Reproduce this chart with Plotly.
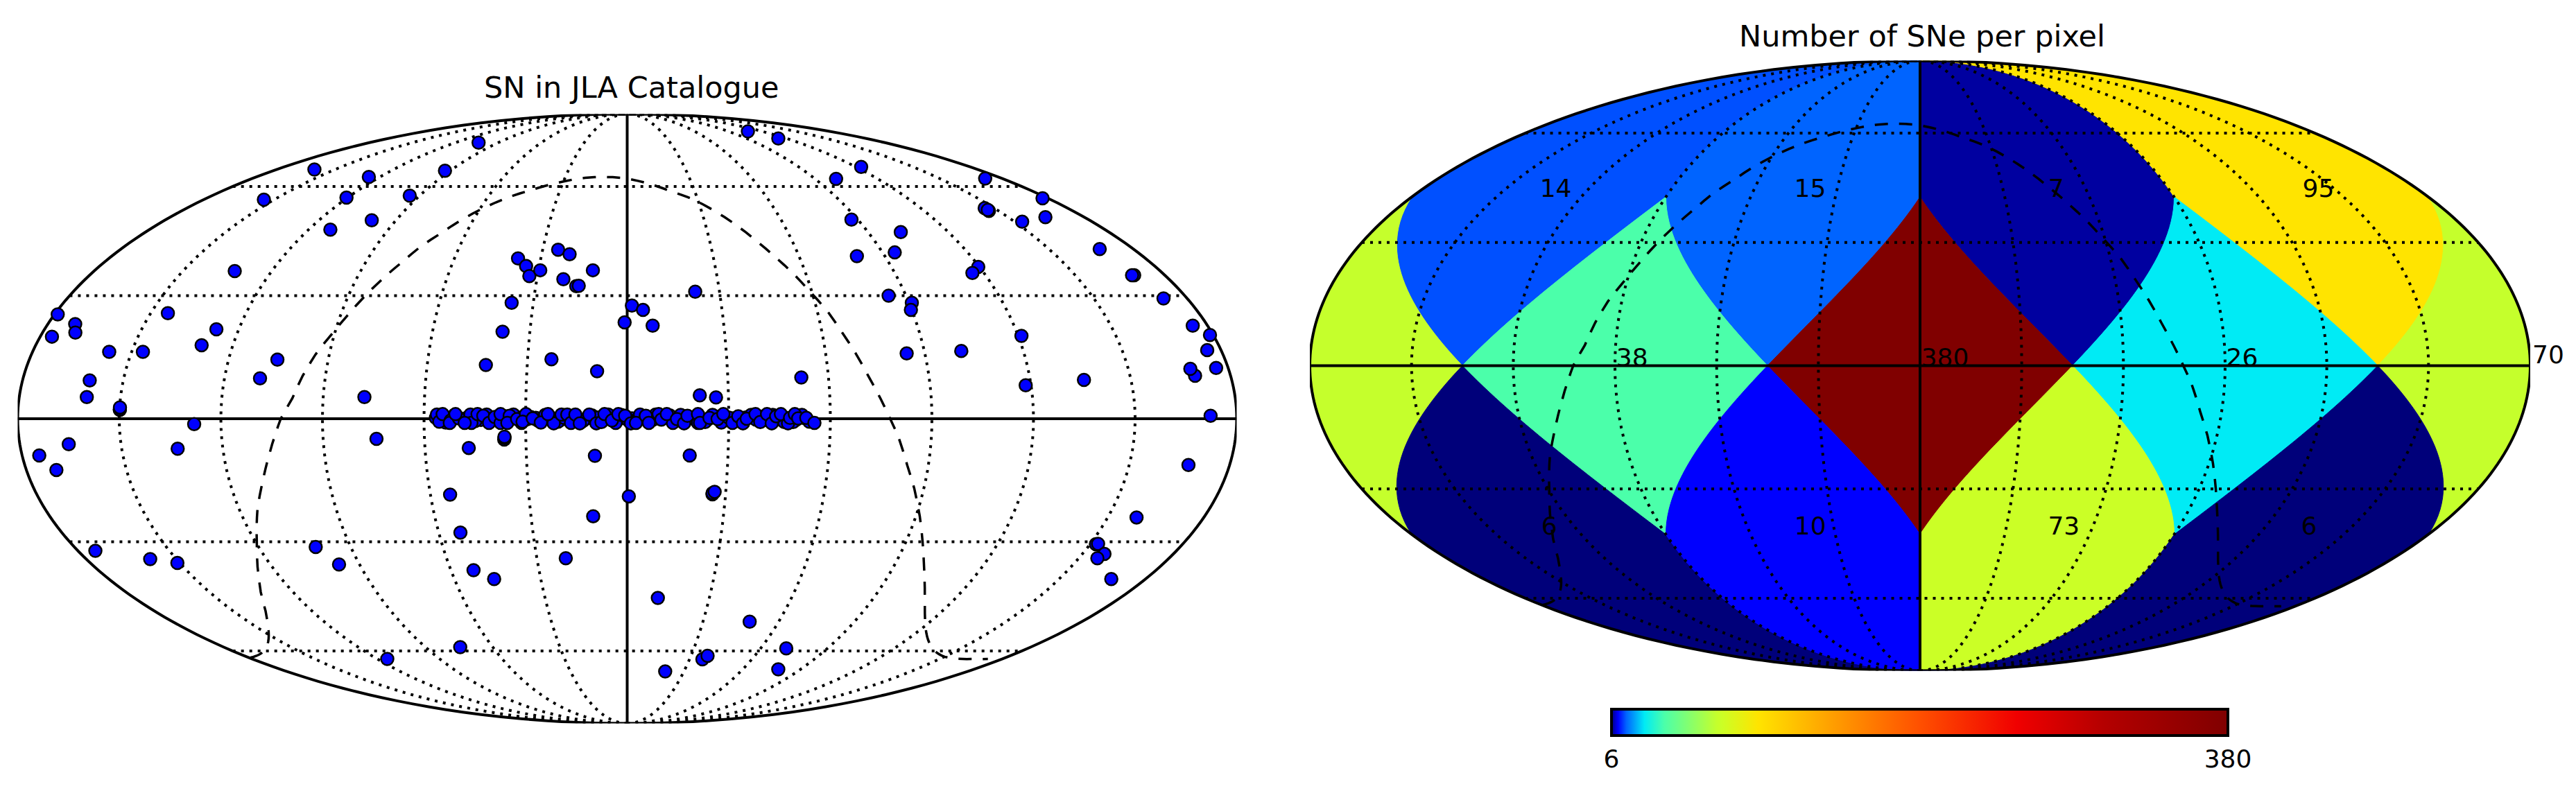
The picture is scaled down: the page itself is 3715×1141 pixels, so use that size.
import math
import plotly.graph_objects as go

W, H = 3715, 1141
TXT = "DejaVu Sans"

# SNe, degrees (centre of map = lon 0, lon grows to the right)
sn_lon = [-179, -171.5, -169.9, -176.4, -156.8, -146.6, -144.6, -126.9, -129.5, -105.3, -109.4, -160, -160, -149.9,
          -149.9, -149.9, -77.8, -132.5, -154.4, -160.5, -125.4, -120.5, -94.3, -92.6, -103.7, -99.4, -111.8, -37.9,
          -34.5, -32.7, -29.4, -24.5, -20.2, -11.6, -21.2, -16.7, -15.9, -36.9, -38.4, -42.4, -22.8, -9, 1.5, 5, -0.8,
          7.9, -127.9, -165.5, -174.9, -171, -133.4, -74.2, -47, -36.4, -36.3, -36.3, -9.6, -54, 0.5, -10.6, -53.1,
          -174.3, -158.7, -150.8, -101.4, -96.9, -52.3, -46.2, -20.4, -74.5, -115.2, 11.2, 107.3, 113.9, 122.8, 100.1,
          171.9, 177.7, 146.1, 146.1, 146.3, 152.9, 164.7, 87.5, 102.2, 94.3, 80.2, 119.6, 116.1, 168, 169.7, 169, 172.4,
          22.1, 84.4, 90.9, 89.7, 175.4, 179, 175.8, 121, 101.2, 84.5, 118.4, 136, 51.9, 169.4, 168.6, 176.4, 21.5, 26.3,
          172.3, 18.6, 26, 26, 26.6, 48.5, 71.5, 36.2, 37.8, 20.1, 78.5, 167.7, 159, 151.9, 152.5, 157.3, 156.2, 168.1]
sn_lat = [25.3, 22.9, 20.8, 19.8, 16.1, 16.1, 25.6, 21.6, 17.7, 14.2, 9.7, 9.2, 5.2, 2.1,
          2.3, 2.7, 5.2, 36.3, 56, 65.4, 63, 56.6, 57.2, 65, 75, 50, 47.4, 39.6,
          37.6, 35, 36.5, 41.9, 40.7, 36.5, 34.2, 32.4, 32.5, 28.2, 21, 12.9, 14.3, 11.4, 27.5, 26.4, 23.3,
          22.5, -1.3, -6.1, -8.8, -12.3, -7.2, -4.8, -7, -5, -4.6, -4.3, -8.9, -18.3, -18.7, -23.6, -27.7,
          -32.3, -34.4, -35.4, -31.3, -35.8, -37.3, -39.6, -34.2, -58.8, -62.5, -44.7, 79.7, 76.7, 66.3, 62.4,
          62.5, 56.4, 53.5, 52.7, 53, 49.6, 50.9, 50.2, 46.7, 41.2, 40.2, 37.4, 35.8, 42.1, 35.2, 35.2, 29.3,
          31, 30, 28.2, 26.4, 22.5, 20.2, 16.5, 20, 16.3, 15.7, 8, 9.3, 9.9, 10.3, 12, 12.2, 5.6, 5.1,
          0.7, -8.8, -18.2, -17.9, -17.6, -51.3, -59.2, -62.6, -61.5, -66.6, -65.9, -11.1, -23.9, -30.6, -30.5, -33.1,
          -34.2, -39.6]

# the stripe along the equator, hidden ones first so the readable ones end up on top
stripe_lon = [-55, -52.8, -50.2, -48.6, -45.4, -43.2, -40, -37, -34.8, -32, -29.5, -27, -25, -23, -21, -19.5, -16, -14.5,
              -12, -9.5, -7, -4.8, -2.8, -0.9, 1.4, 3, 5, 6.8, 9, 11, 13, 15, 17, 19, 21, 24, 26, 28.6, 31, 33, 35,
              38, 41.8, 44.5, 47, 50, 52.6,
              -56.5, -53.6, -51, -47.2, -44.8, -41.5, -38.4, -36, -33.6, -31.2, -28.5, -26.4, -24.2, -22.5, -20.4,
              -18.6, -13, -10.4, -8.5, -5.6, -3.4, -1.8, 0.2, 3.8, 7.5, 8.4, 12.6, 13.5, 15.8, 19.2, 23, 25.2, 27.8,
              29.9, 33.7, 36.6, 40.4, 43, 46.4, 49, 51.6, 53.8,
              -56.2, -55.5, -54.5, -52.1, -52.4, -49.7, -50.7, -46.3, -46, -48, -44.2, -42.5, -40.8, -39.1, -37.4,
              -37.4, -34.7, -35.4, -32.5, -29.9, -30.9, -27.9, -25.5, -21.7, -23.4, -19.4,
              -17.7, -16.6, -15.3, -14, -11.2, -9.1, -7.6, -6.7, -4.5, -2.6, -0.6, 1.1, 2.6, 5.5, 6.4, 9.3, 10.1, 11.7,
              14.7, 16.8, 17.8, 20.9,
              20.9, 21.5, 24.3, 26.7, 28.4, 31.1, 32.8, 34.2, 35.3, 37.9, 39.3, 41.3, 42.7, 44, 45.4, 47.5, 48.1, 49.5,
              50.5, 52.9, 55.3]
stripe_lat = [0.1, -0.2, 0.3, -0.1, 0.2, -0.3, 0.1, 0.2, -0.2, 0.3, -0.1, 0.2, -0.2, 0.3, 0, -0.2, 0.2, -0.1,
              0.1, -0.3, 0.2, 0.1, -0.2, 0.3, 0.1, -0.1, 0.2, -0.2, 0.1, 0.3, -0.1, 0.2, -0.3, 0.1, 0.2, -0.1, 0.3, -0.2, 0.1, -0.1, 0.3,
              -0.2, 0.1, -0.1, 0.2, -0.2, 0.1,
              0.2, -0.9, 0.9, 0.3, -0.5, 1, -0.3, 0.6, 1, -1, 0.4, -0.4, 0.9, 0, -0.7,
              0.2, -0.5, 0.8, 0.3, 1, -1, 0.9, -0.3, 1, -0.3, 1, 0.8, -1, 0.9, 0.2, -0.8, 0.9, -0.9,
              0.3, -0.7, 0.9, 0.6, 0.9, -0.8, -0.8, 0.9, -0.7,
              1, -0.7, 1.1, -0.4, -1, 0.1, 1.1, 1, -1, -1, 1.1, 0.7, -1, 0.4, -1,
              1.1, 0.7, -1, -0.1, 1.1, -0.7, 0.1, -0.9, -1.1, 1.1, 1,
              1, -1, 1, -1.1, 1, -1.1, -0.8, 1.1, -0.4, 1.1, 0.7, -1.1, -1, 0.7, -1, 1.1, -0.2, 1.1,
              -0.1, -1.1, 0.7, -1,
              1.1, -1, 0.2, -0.1, 1.1, -1, 0.6, -1.1, 0, 1.1, -0.8, 1.1, -1.1, 0.6, 1.1, -1.1, 0.2, 1.1,
              0.1, 0.2, -1]

# dashed curve, same on both maps
curve_lon = [-179.5, -169.3, -155.7, -137.7, -131.6, -124.9, -119.5, -114.3, -110, -106.6, -103.9, -102.3, -99.1, -96.8,
             -94.2, -90.7, -87.9, -84.5, -81.3, -77.3, -74, -69.2, -64.4, -58.8, -51.1, -42.8, -32.1, -20.3, -2.6, 5.4,
             19, 28, 35.1, 41.4, 46.9, 51.5, 55.9, 59.1, 63.2, 66.2, 69.1, 71.9, 75.1, 77.9, 79.9, 83.7, 87.1, 91.2,
             95.3, 99.3, 105.6, 114.2, 132, 150.1, 167.6, 173.2]
curve_lat = [-62.1, -60.7, -57.2, -48.3, -43.1, -36.4, -29.9, -21.8, -15.1, -8.9, -3.4, 0, 4.9, 10.3,
             15.4, 20.6, 24.9, 30.1, 34.3, 38.9, 42.7, 46.5, 50.3, 53.5, 56.7, 58.9, 61.2, 62.7, 62.7, 61.7,
             58.6, 56.1, 52.8, 48.9, 44.4, 40.1, 35.5, 31.4, 26.1, 20.8, 15.7, 10.3, 4.6, -0.4, -3.7, -11.2, -16.8, -23.6,
             -29.9, -35.2, -41.9, -48.9, -57.6, -61.8, -62.5, -62.5]

# HEALPix nside=1 pixels, right map
pixel_counts = [14, 15, 7, 95, 38, 380, 26, 70, 6, 10, 73, 6]
pixel_lon = [-135, -45, 45, 135, -90, 0, 90, 180, -135, -45, 45, 135]
pixel_band = ["n", "n", "n", "n", "e", "e", "e", "e", "s", "s", "s", "s"]
# text sits just above the pixel centre, plotly adds its own gap so these are ~2 deg under it
label_lon = [-132.5, -44.1, 44.1, 132.5, -90, 0, 90, 179.9, -137.3, -45.8, 45.8, 137.3]
label_lat = [39.8, 39.8, 39.8, 39.8, -1.8, -1.8, -1.8, -1.8, -43.8, -43.8, -43.8, -43.8]

# colour per count: histogram-equalised jet
count_stops = [6, 7, 10, 14, 15, 26, 38, 70, 73, 95, 152, 193, 252, 305, 380]
count_colors = ["rgb(0,0,122)", "rgb(0,0,160)", "rgb(0,0,255)", "rgb(0,80,255)", "rgb(0,100,255)", "rgb(0,235,245)",
                "rgb(75,255,170)", "rgb(197,255,44)", "rgb(203,255,38)", "rgb(255,228,0)", "rgb(255,140,0)",
                "rgb(255,80,0)", "rgb(240,0,0)", "rgb(180,0,0)", "rgb(128,0,0)"]
colorbar_ticks = [6, 380]

colorscale = [[(c - 6) / 374, col] for c, col in zip(count_stops, count_colors)]
color_of = dict(zip(count_stops, count_colors))


def edge(lon0, lon1, z0, z1):
    # pixel edge in the equatorial belt, straight in (lon, sin lat)
    n = 30
    return [[lon0 + (lon1 - lon0) * i / n, math.degrees(math.asin(z0 + (z1 - z0) * i / n))] for i in range(n + 1)]


def pixel_ring(lon, band):
    # clockwise seen from outside the sphere
    if band == "n":
        ring = [[lon + 45, 90]] + edge(lon + 45, lon, 2 / 3, 0) + edge(lon, lon - 45, 0, 2 / 3) + [[lon - 45, 90]]
    elif band == "s":
        ring = [[lon - 45, -90]] + edge(lon - 45, lon, -2 / 3, 0) + edge(lon, lon + 45, 0, -2 / 3) + [[lon + 45, -90]]
    else:
        ring = (edge(lon, lon + 45, 2 / 3, 0) + edge(lon + 45, lon, 0, -2 / 3)
                + edge(lon, lon - 45, -2 / 3, 0) + edge(lon - 45, lon, 0, 2 / 3))
    return ring + [ring[0]]


# graticule
gr_lon, gr_lat = [], []
for m in [-150, -120, -90, -60, -30, 30, 60, 90, 120, 150]:
    gr_lon += [m] * 37 + [None]
    gr_lat += list(range(-90, 91, 5)) + [None]
for p in [-60, -30, 30, 60]:
    gr_lon += list(range(-180, 181, 2)) + [None]
    gr_lat += [p] * 181 + [None]
axis_lon = [-180, -90, 0, 90, 180, None, 0, 0, 0]
axis_lat = [0, 0, 0, 0, 0, None, -90, 0, 90]
frame_lon = [-179.999] * 37 + [None] + [179.999] * 37
frame_lat = list(range(-90, 91, 5)) + [None] + list(range(-90, 91, 5))


def add_lines(fig, geo):
    for lo, la, dash in [(gr_lon, gr_lat, "4px,8px"), (axis_lon, axis_lat, "solid"),
                         (curve_lon, curve_lat, "19px,16px"), (frame_lon, frame_lat, "solid")]:
        fig.add_trace(go.Scattergeo(lon=lo, lat=la, mode="lines", geo=geo, showlegend=False, hoverinfo="skip",
                                    line=dict(color="black", width=4 if dash != "19px,16px" else 3.5, dash=dash)))


fig = go.Figure()
add_lines(fig, "geo")
fig.add_trace(go.Scattergeo(lon=sn_lon + stripe_lon, lat=sn_lat + stripe_lat, mode="markers", geo="geo", showlegend=False,
                            marker=dict(size=18, color="rgb(0,0,255)", line=dict(color="black", width=2.5))))

for i in range(len(pixel_counts)):
    ring = pixel_ring(pixel_lon[i], pixel_band[i])
    col = color_of[pixel_counts[i]]
    fig.add_trace(go.Scattergeo(lon=[q[0] for q in ring], lat=[q[1] for q in ring], mode="lines", fill="toself", geo="geo2",
                                fillcolor=col, line=dict(color=col, width=1), showlegend=False, hoverinfo="skip"))
add_lines(fig, "geo2")
# labels, and the colour scale hangs off the same points. The one on lon 180 falls off the map, see annotations
fig.add_trace(go.Scattergeo(lon=label_lon, lat=label_lat, mode="text+markers", geo="geo2", showlegend=False,
                            text=["" if v == 180 else str(c) for v, c in zip(pixel_lon, pixel_counts)], textposition="top right",
                            textfont=dict(family=TXT, size=36, color="black"),
                            marker=dict(size=1, opacity=0, color=pixel_counts, cmin=6, cmax=380, colorscale=colorscale, showscale=True,
                                        colorbar=dict(orientation="h", x=(2324 + 3213) / 2 / W, xanchor="center", y=1 - 1023 / H,
                                                      yanchor="top", len=889, lenmode="pixels", thickness=38,
                                                      thicknessmode="pixels", xpad=0, ypad=0, outlinewidth=4, outlinecolor="black",
                                                      ticks="", tickvals=colorbar_ticks,
                                                      ticktext=[str(t) for t in colorbar_ticks],
                                                      tickfont=dict(family=TXT, size=36, color="black")))))

geo_style = dict(projection_type="mollweide", visible=False, showframe=False, bgcolor="rgba(0,0,0,0)")
fig.update_layout(
    width=W, height=H, margin=dict(l=0, r=0, t=0, b=0), paper_bgcolor="white", font=dict(family=TXT, color="black"),
    geo=dict(domain=dict(x=[24 / W, 1785 / W], y=[1 - 1043.5 / H, 1 - 164.5 / H]), **geo_style),
    geo2=dict(domain=dict(x=[1888 / W, 3650 / W], y=[1 - 967.5 / H, 1 - 87.5 / H]), **geo_style),
    annotations=[
        dict(text="SN in JLA Catalogue", x=911 / W, y=1 - 126 / H, xref="paper", yref="paper", showarrow=False,
             xanchor="center", yanchor="middle", font=dict(size=43)),
        dict(text="Number of SNe per pixel", x=2772 / W, y=1 - 52 / H, xref="paper", yref="paper", showarrow=False,
             xanchor="center", yanchor="middle", font=dict(size=43)),
        dict(text=str(pixel_counts[7]), x=3650 / W, y=1 - 534 / H, xref="paper", yref="paper", showarrow=False,
             xanchor="left", yanchor="bottom", font=dict(size=36)),
    ])

fig.write_html("out.html", post_script="document.body.style.margin='0';", config={"displayModeBar": False})
